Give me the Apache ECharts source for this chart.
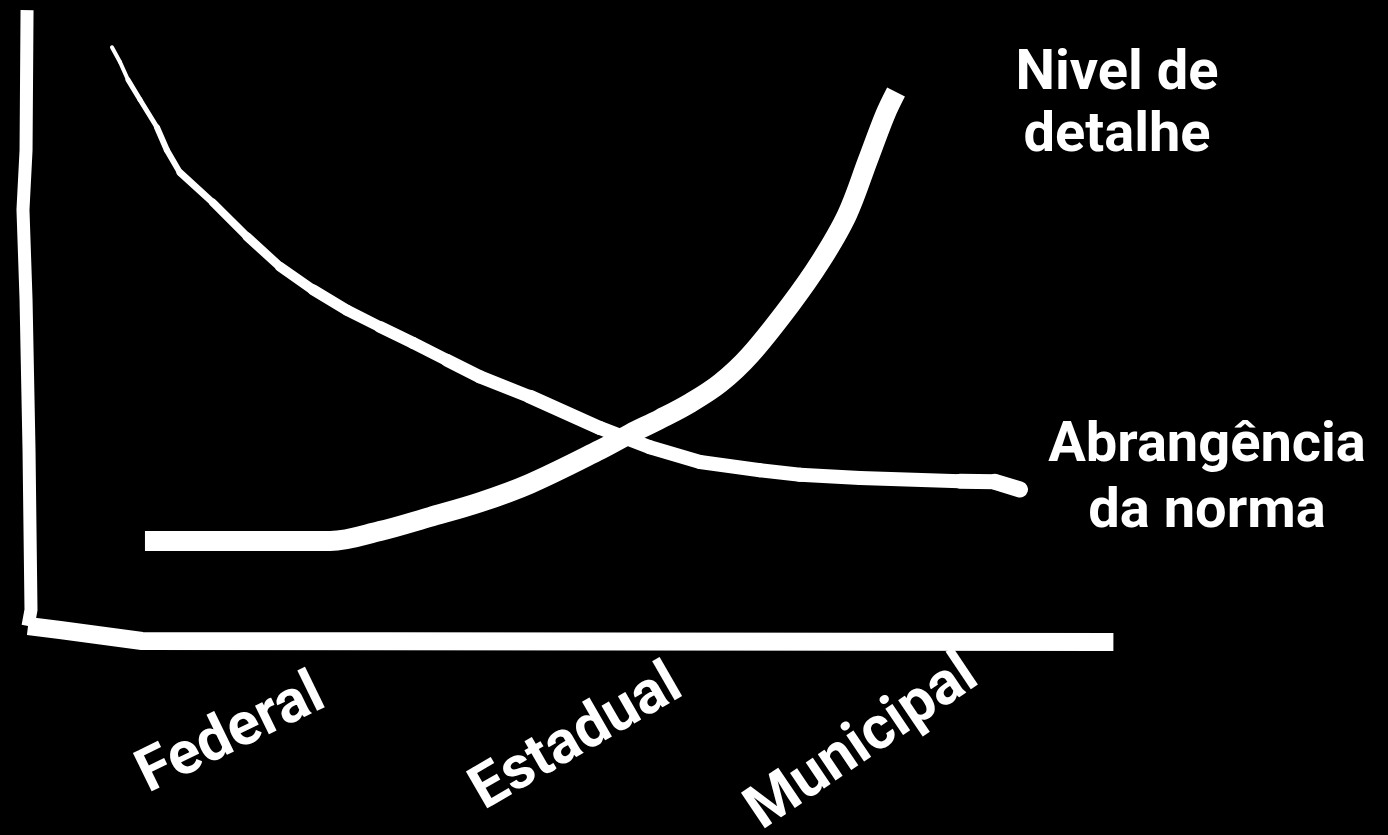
<!DOCTYPE html>
<html>
<head>
<meta charset="utf-8">
<script src="https://cdn.jsdelivr.net/npm/echarts@6/dist/echarts.min.js"></script>
<style>
html,body{margin:0;padding:0;background:#000;}
#chart{width:1388px;height:835px;}
</style>
</head>
<body>
<div id="chart"></div>
<script>
// Categories on the x axis and where they sit (0..100 scale)
const categories = ['Federal', 'Estadual', 'Municipal'];
const categoryX = [27.4, 59.8, 86.6];

// "Abrangência da norma" curve (decreasing)
const abrangencia = [
  [8.36, 93.4], [9.09, 91.1], [9.82, 88.3], [10.91, 85.2], [12.45, 80.9],
  [13.36, 77.3], [14.55, 73.8], [17.55, 69.1], [20.64, 63.8], [23.64, 59.1],
  [26.64, 55.5], [29.73, 52.3], [32.73, 49.7], [35.73, 47.2], [38.82, 44.5],
  [41.82, 41.9], [46.36, 38.8], [52.73, 33.9], [57.27, 30.9], [61.82, 28.6],
  [67.27, 27.3], [70.91, 26.6], [76.36, 26.1], [85.45, 25.6], [88.64, 25.5],
  [90.91, 24.3]
];

// "Nivel de detalhe" curve (increasing)
const nivelDetalhe = [
  [11.36, 16.25], [28.18, 16.25], [32.73, 17.8], [37.27, 20.0], [41.82, 22.3],
  [46.36, 25.2], [52.73, 30.5], [55.45, 33.0], [58.18, 35.3], [60.91, 37.8],
  [63.64, 40.9], [66.36, 45.3], [70.0, 53.1], [72.73, 59.8], [75.18, 67.2],
  [77.09, 75.8], [78.64, 82.8], [79.64, 86.4]
];

// Hand-drawn axis strokes
const yAxisStroke = [[0.64, 99.2], [0.55, 77.3], [0.27, 68.0], [0.55, 53.9], [0.82, 30.5], [1.0, 5.5], [0.73, 2.97]];
const xAxisStroke = [[0.73, 2.97], [3.64, 2.34], [11.09, 0.63], [99.4, 0.47]];

// Pen pressure of the thin curve: stroke width of each piece (style only)
const taperWidths = [4, 4, 5, 5, 6, 6, 7, 8, 9, 10, 11, 11, 12, 12, 13, 13, 14, 14, 14, 14, 14, 14, 14, 15, 16];
const labelRotate = [26, 30, 34];
const labelMargin = [47, 36, 25];

const FONT = 'Roboto, "DejaVu Sans", sans-serif';

const chart = echarts.init(document.getElementById('chart'));

const xAxes = categories.map((name, i) => ({
  type: 'value', min: 0, max: 100, gridIndex: 0, position: 'bottom', offset: 0,
  axisLine: { show: false, onZero: false }, axisTick: { show: false }, splitLine: { show: false },
  axisLabel: {
    show: true,
    customValues: [categoryX[i]],
    formatter: function () { return name; },
    rotate: labelRotate[i],
    margin: labelMargin[i],
    color: '#fff', fontSize: 60, fontWeight: 'bold', fontFamily: FONT,
    showMinLabel: false, showMaxLabel: false
  }
}));

const lineBase = {
  type: 'line', xAxisIndex: 0, yAxisIndex: 0, showSymbol: false, symbol: 'none',
  clip: false, silent: true, animation: false, smooth: false
};

const series = [];
series.push(Object.assign({}, lineBase, {
  name: 'eixo y', data: yAxisStroke,
  lineStyle: { color: '#fff', width: 13, cap: 'butt', join: 'round' }
}));
series.push(Object.assign({}, lineBase, {
  name: 'eixo x', data: xAxisStroke,
  lineStyle: { color: '#fff', width: 18, cap: 'butt', join: 'round' }
}));
taperWidths.forEach((w, i) => {
  series.push(Object.assign({}, lineBase, {
    name: 'Abrangência da norma',
    data: abrangencia.slice(i, i + 2),
    lineStyle: { color: '#fff', width: w, cap: 'round', join: 'round' }
  }));
});
series.push(Object.assign({}, lineBase, {
  name: 'Nivel de detalhe', data: nivelDetalhe, smooth: 0.35,
  lineStyle: { color: '#fff', width: 20, cap: 'butt', join: 'round' }
}));

chart.setOption({
  backgroundColor: '#000',
  animation: false,
  grid: { left: 20, right: 268, top: 5, bottom: 190, containLabel: false, outerBoundsMode: 'none' },
  xAxis: xAxes,
  yAxis: {
    type: 'value', min: 0, max: 100,
    axisLine: { show: false }, axisTick: { show: false }, axisLabel: { show: false }, splitLine: { show: false }
  },
  series: series,
  graphic: [
    {
      type: 'text', x: 1117, y: 106, silent: true,
      style: {
        text: 'Nivel de\ndetalhe', fill: '#fff', textAlign: 'center', textVerticalAlign: 'middle',
        fontSize: 56, fontWeight: 'bold', fontFamily: FONT, lineHeight: 62
      }
    },
    {
      type: 'text', x: 1207, y: 480, silent: true,
      style: {
        text: 'Abrangência\nda norma', fill: '#fff', textAlign: 'center', textVerticalAlign: 'middle',
        fontSize: 56, fontWeight: 'bold', fontFamily: FONT, lineHeight: 66
      }
    }
  ]
});
</script>
</body>
</html>
